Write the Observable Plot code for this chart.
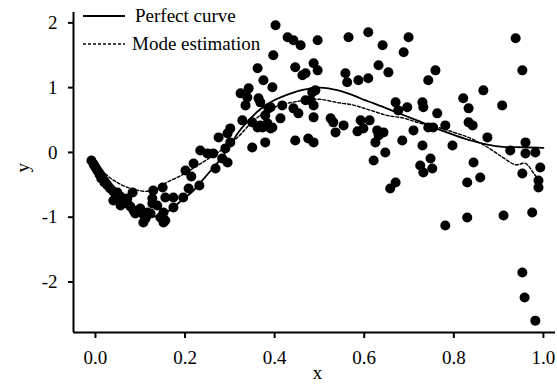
<!DOCTYPE html>
<html>
<head>
<meta charset="utf-8">
<script src="https://cdn.jsdelivr.net/npm/d3@7"></script>
<script src="https://cdn.jsdelivr.net/npm/@observablehq/plot@0.6"></script>
<style>
  html, body { margin: 0; padding: 0; background: white; }
  svg text { font-family: "Liberation Serif", "Times New Roman", serif !important; }
</style>
</head>
<body>
<div id="chart"></div>
<script>
// ---- data ----
const xTicks = [0, 0.2, 0.4, 0.6, 0.8, 1.0];
const yTicks = [-2, -1, 0, 1, 2];
const xDomain = [-0.049, 1.027];
const yDomain = [-2.78, 2.16];

const legendLabels = ["Perfect curve", "Mode estimation"];

// scatter samples [x, y]
const scatter = [
  [-0.009,-0.124],[-0.004,-0.185],[0.000,-0.232],[0.004,-0.278],[0.009,-0.340],
  [0.013,-0.402],[0.020,-0.464],[0.027,-0.510],[0.033,-0.556],[0.040,-0.603],
  [0.047,-0.649],[0.056,-0.680],[0.065,-0.726],[0.071,-0.788],[0.078,-0.835],
  [0.085,-0.896],[0.089,-0.943],[0.100,-0.866],[0.107,-0.958],[0.112,-1.020],
  [0.107,-1.082],[0.116,-0.927],[0.123,-0.943],[0.127,-0.788],[0.129,-0.587],
  [0.127,-0.711],[0.138,-0.819],[0.152,-0.927],[0.156,-1.051],[0.150,-0.541],
  [0.156,-0.696],[0.174,-0.696],[0.196,-0.696],[0.208,-0.556],[0.174,-0.850],
  [0.145,-1.005],[0.152,-1.082],[0.232,-0.510],[0.071,-0.711],[0.083,-0.618],
  [0.049,-0.618],[0.056,-0.819],[0.040,-0.742],
  [0.201,-0.278],[0.214,-0.371],[0.219,-0.170],[0.234,0.031],[0.250,-0.015],
  [0.263,-0.015],[0.268,-0.247],[0.283,-0.093],[0.295,-0.155],[0.275,0.232],
  [0.295,0.294],[0.301,0.371],[0.301,0.155],[0.290,0.062],[0.328,0.495],
  [0.335,0.726],[0.339,0.850],[0.324,0.912],[0.342,0.989],[0.350,0.464],
  [0.350,0.077],[0.368,0.417],[0.368,0.773],[0.379,0.572],[0.384,0.448],
  [0.379,0.155],[0.391,0.371],[0.391,0.696],
  [0.402,1.963],[0.429,1.777],[0.442,1.731],[0.458,1.654],[0.496,1.731],
  [0.565,1.777],[0.397,1.499],[0.362,1.298],[0.375,1.113],[0.395,1.005],
  [0.446,1.314],[0.462,1.190],[0.469,1.221],[0.487,1.376],[0.496,1.267],
  [0.364,0.835],[0.386,0.680],[0.417,0.726],[0.442,0.680],[0.453,0.603],
  [0.484,0.927],[0.491,0.958],[0.480,0.804],[0.487,0.726],[0.469,0.804],
  [0.487,0.541],[0.525,0.526],[0.531,0.464],[0.554,0.417],[0.536,0.309],
  [0.413,0.526],[0.362,0.386],[0.373,0.386],[0.395,0.386],[0.446,0.185],
  [0.475,0.216],[0.487,0.155],[0.558,1.221],[0.562,1.082],[0.587,1.113],
  [0.609,1.855],[0.641,1.654],[0.699,1.777],[0.688,1.546],[0.632,1.345],
  [0.654,1.236],[0.759,1.267],[0.743,1.113],[0.609,1.144],[0.670,0.773],
  [0.676,0.649],[0.696,0.696],[0.730,0.773],[0.732,0.696],[0.763,0.603],
  [0.781,0.417],[0.592,0.495],[0.612,0.495],[0.585,0.325],[0.598,0.371],
  [0.629,0.340],[0.643,0.309],[0.632,0.263],[0.625,0.155],[0.685,0.185],
  [0.710,0.340],[0.743,0.386],[0.754,0.386],[0.730,0.108],[0.797,0.108],
  [0.647,0.000],[0.621,-0.124],[0.748,-0.093],[0.725,-0.201],[0.752,-0.247],
  [0.732,-0.309],[0.670,-0.464],[0.658,-0.556],
  [0.938,1.762],[0.953,1.267],[0.866,0.958],[0.821,0.835],[0.908,0.726],
  [0.833,0.680],[0.833,0.464],[0.842,0.417],[0.875,0.232],[0.960,0.155],
  [0.926,0.031],[0.960,-0.015],[0.982,0.000],[0.993,-0.232],[0.953,-0.325],
  [0.844,-0.155],[0.859,-0.386],[0.830,-0.464],[0.989,-0.433],[0.989,-0.541],
  [0.975,-0.927],[0.911,-0.974],[0.830,-1.005],[0.781,-1.128],[0.953,-1.855],
  [0.958,-2.241],[0.982,-2.597]
];

// perfect curve [x, y]
const perfectCurve = [
  [0.00,-0.12],[0.02,-0.33],[0.04,-0.53],[0.06,-0.71],[0.08,-0.85],[0.10,-0.94],
  [0.12,-0.99],[0.14,-0.98],[0.16,-0.92],[0.18,-0.81],[0.20,-0.70],[0.22,-0.58],
  [0.24,-0.42],[0.26,-0.26],[0.28,-0.10],[0.30,0.10],[0.32,0.32],[0.34,0.48],
  [0.36,0.62],[0.38,0.73],[0.40,0.81],[0.42,0.87],[0.44,0.92],[0.46,0.96],
  [0.48,0.99],[0.50,1.00],[0.52,0.99],[0.54,0.96],[0.56,0.92],[0.58,0.87],
  [0.60,0.81],[0.62,0.76],[0.65,0.68],[0.69,0.57],[0.73,0.46],[0.76,0.37],
  [0.80,0.27],[0.84,0.18],[0.875,0.12],[0.91,0.085],[0.95,0.08],[1.00,0.07]
];

// mode estimation [x, y]
const modeCurve = [
  [0.00,-0.15],[0.027,-0.36],[0.05,-0.47],[0.08,-0.56],[0.116,-0.60],[0.14,-0.55],
  [0.16,-0.46],[0.19,-0.36],[0.24,-0.15],[0.28,0.03],[0.317,0.23],[0.353,0.49],
  [0.39,0.67],[0.43,0.76],[0.464,0.80],[0.50,0.82],[0.54,0.77],[0.576,0.73],
  [0.614,0.65],[0.652,0.57],[0.6875,0.53],[0.725,0.45],[0.763,0.39],[0.80,0.31],
  [0.837,0.22],[0.875,0.08],[0.91,-0.08],[0.9375,-0.19],[0.96,-0.17],[0.978,-0.32],
  [0.993,-0.46]
];

// ---- chart ----
const font = '"Liberation Serif", "Times New Roman", serif';
const fs = 19;

function legendMark(index, scales, values, dimensions) {
  const g = d3.create("svg:g")
    .attr("font-family", font)
    .attr("font-size", fs)
    .attr("text-anchor", "start")
    .attr("fill", "black");
  const x0 = dimensions.marginLeft + 10;
  const rows = [
    {label: legendLabels[0], dash: null, y: 16, tx: 135},
    {label: legendLabels[1], dash: "3,2", y: 44, tx: 132}
  ];
  for (const r of rows) {
    g.append("line")
      .attr("x1", x0).attr("x2", x0 + 42)
      .attr("y1", r.y).attr("y2", r.y)
      .attr("stroke", "black")
      .attr("stroke-width", r.dash ? 1.5 : 2)
      .attr("stroke-dasharray", r.dash);
    g.append("text")
      .attr("x", r.tx).attr("y", r.y)
      .attr("dy", "0.32em")
      .attr("text-anchor", "start")
      .text(r.label);
  }
  return g.node();
}

const chart = Plot.plot({
  width: 557,
  height: 387,
  marginLeft: 73,
  marginRight: 2,
  marginTop: 12,
  marginBottom: 55,
  style: {fontFamily: font, background: "white", color: "black"},
  x: {domain: xDomain},
  y: {domain: yDomain},
  marks: [
    Plot.axisX({ticks: xTicks, tickFormat: d3.format(".1f"), tickSize: 6, tickPadding: 12,
      fontSize: fs, fontFamily: font, strokeWidth: 2, label: null}),
    Plot.axisY({ticks: yTicks, tickFormat: d => String(d), tickSize: 5, tickPadding: 11,
      fontSize: fs, fontFamily: font, strokeWidth: 2, label: null}),
    Plot.ruleX([xDomain[0]], {stroke: "black", strokeWidth: 2}),
    Plot.ruleY([yDomain[0]], {stroke: "black", strokeWidth: 2}),
    Plot.dot(scatter, {x: d => d[0], y: d => d[1], r: 5, fill: "black", stroke: "none"}),
    Plot.line(perfectCurve, {x: d => d[0], y: d => d[1], stroke: "black", strokeWidth: 1.8, curve: "catmull-rom"}),
    Plot.line(modeCurve, {x: d => d[0], y: d => d[1], stroke: "black", strokeWidth: 1.4,
      strokeDasharray: "3,2", curve: "catmull-rom"}),
    Plot.text(["x"], {frameAnchor: "bottom", dx: 3, dy: 46, fontSize: fs, fontFamily: font, text: d => d}),
    Plot.text(["y"], {frameAnchor: "left", dx: -51, rotate: -90, fontSize: fs, fontFamily: font, text: d => d}),
    legendMark
  ]
});

document.getElementById("chart").appendChild(chart);
</script>
</body>
</html>
